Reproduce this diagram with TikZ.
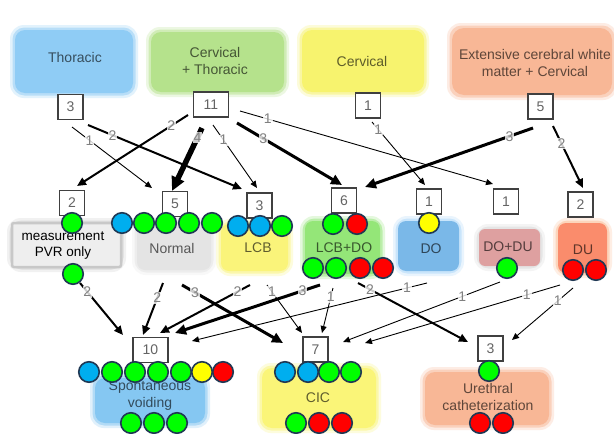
\documentclass[tikz,border=0pt]{standalone}
\usepackage{fontspec}
\setmainfont{Liberation Sans}
\usetikzlibrary{arrows.meta}
\definecolor{thor}{RGB}{143,204,245}
\definecolor{ct}{RGB}{181,226,140}
\definecolor{cerv}{RGB}{247,243,110}
\definecolor{ext}{RGB}{248,183,150}
\definecolor{pvrfill}{RGB}{238,238,238}
\definecolor{pvredge}{RGB}{200,200,200}
\definecolor{normgray}{RGB}{228,228,228}
\definecolor{lcb}{RGB}{250,244,122}
\definecolor{lcbdo}{RGB}{148,230,120}
\definecolor{dob}{RGB}{122,184,232}
\definecolor{doglow}{RGB}{170,215,250}
\definecolor{dodu}{RGB}{222,160,160}
\definecolor{duduglow}{RGB}{215,215,215}
\definecolor{du}{RGB}{250,140,108}
\definecolor{duglow}{RGB}{252,190,150}
\definecolor{sv}{RGB}{133,199,242}
\definecolor{cic}{RGB}{250,245,120}
\definecolor{ureth}{RGB}{248,183,150}
\definecolor{cblue}{RGB}{0,174,239}
\definecolor{cgreen}{RGB}{0,255,0}
\definecolor{cred}{RGB}{255,0,0}
\definecolor{cyellow}{RGB}{255,255,0}
\definecolor{navy}{RGB}{31,56,84}
\definecolor{boxgray}{RGB}{64,64,64}
\definecolor{numgray}{RGB}{100,100,100}
\definecolor{labgray}{RGB}{128,128,128}
\newcommand\softbox[7]{%
  \fill[#6, opacity=0.25, rounded corners=14pt] (#1-5,#2-5) rectangle (#3+5,#4+5);
  \fill[#6, opacity=0.5, rounded corners=12pt] (#1-2.5,#2-2.5) rectangle (#3+2.5,#4+2.5);
  \fill[#5, rounded corners=#7pt] (#1,#2) rectangle (#3,#4);
}
\newcommand\pat[4]{\node[circ, fill=#4] (#1) at (#2,#3) {};}
\newcommand\conn[6]{%
  \coordinate (#2s) at (#3);
  \coordinate (#2e) at (#4);
  \draw[#1] (#2s) -- node[lab, pos=#6] {#5} (#2e);
}
\begin{document}
\begin{tikzpicture}[x=1pt, y=-1pt,
  circ/.style={circle, draw=navy, line width=1.6pt, minimum size=20.5pt, inner sep=0pt},
  cnt/.style={draw=boxgray, line width=1.1pt, fill=white, minimum width=25pt, minimum height=25pt, inner sep=0pt, text=numgray, font=\fontsize{14}{14}\selectfont},
  wcnt/.style={cnt, minimum width=35pt},
  lab/.style={fill=white, fill opacity=0.8, text opacity=1, text=labgray, inner sep=0.8pt, font=\fontsize{14}{14}\selectfont},
  cat/.style={align=center, text=black, text opacity=0.62, font=\fontsize{14}{17}\selectfont},
  aone/.style={line width=0.9pt, -{Triangle[length=7pt,width=6pt]}},
  atwo/.style={line width=2pt, -{Triangle[length=9pt,width=8pt]}},
  athree/.style={line width=3pt, -{Triangle[length=11pt,width=10pt]}},
  afour/.style={line width=5.5pt, -{Triangle[length=14pt,width=13pt]}}
]
\useasboundingbox (0,0) rectangle (614,434);
\fill[white] (0,0) rectangle (614,434);

% top category boxes
\softbox{15}{30}{133}{93}{thor}{thor}{10}
\softbox{151}{32}{284}{92}{ct}{ct}{10}
\softbox{302}{30}{424}{92}{cerv}{cerv}{10}
\softbox{452}{28}{612}{95}{ext}{ext}{12}
\node[cat] (thoracic) at (75,57) {Thoracic};
\node[cat] (cervthor) at (215,60.5) {Cervical\\+ Thoracic};
\node[cat] (cervical) at (362,61) {Cervical};
\node[cat] (extensive) at (535,62.5) {Extensive cerebral white\\matter + Cervical};

% middle category boxes
\softbox{12}{223}{121}{267}{pvrfill}{pvredge}{2}
\draw[pvredge, line width=2.5pt, rounded corners=2pt] (12,223) rectangle (121,267);
\softbox{137}{222}{211}{270}{normgray}{normgray}{8}
\softbox{221}{224}{288}{271}{lcb}{lcb}{8}
\softbox{305}{221}{380}{274}{lcbdo}{lcbdo}{8}
\softbox{398}{221}{459}{271}{dob}{doglow}{8}
\softbox{479}{229}{540}{266}{dodu}{duduglow}{6}
\softbox{558}{223}{607}{273}{du}{duglow}{8}
\node[align=center, font=\fontsize{13.5}{15.5}\selectfont] (pvr) at (63,245.5) {measurement\\PVR only};
\node[cat] (normal) at (172,248) {Normal};
\node[cat] (lcbt) at (258,248) {LCB};
\node[cat] (lcbdot) at (344,248) {LCB+DO};
\node[cat] (dot) at (431,249) {DO};
\node[cat] (dodut) at (508,247) {DO+DU};
\node[cat] (dut) at (583,250) {DU};

% bottom category boxes
\softbox{95}{378}{205}{423}{sv}{sv}{10}
\softbox{262}{368}{376}{428}{cic}{cic}{10}
\softbox{425}{372}{549}{425}{ureth}{ureth}{10}
\node[cat] (svt) at (150,396) {Spontaneous\\voiding};
\node[cat] (cict) at (318,398) {CIC};
\node[cat] (uretht) at (488,396.5) {Urethral\\catheterization};

% top connectors
\conn{aone}{t1}{72,127}{152,188}{1}{0.22}
\conn{atwo}{t2}{88,125}{242,189}{2}{0.16}
\conn{atwo}{t3}{188,115}{77,186}{2}{0.15}
\conn{afour}{t4}{202,128}{172,191}{4}{0.15}
\conn{aone}{t5}{213,125}{257,188}{1}{0.24}
\conn{athree}{t6}{237,123}{342,185}{3}{0.25}
\conn{aone}{t7}{240,111}{493,184}{1}{0.11}
\conn{aone}{t8}{372,122}{425,185}{1}{0.12}
\conn{athree}{t9}{533,128}{365,187}{3}{0.14}
\conn{atwo}{t10}{553,126}{583,188}{2}{0.28}

% bottom connectors
\conn{atwo}{b1}{80,283}{123,335}{2}{0.17}
\conn{atwo}{b2}{163,283}{143,335}{2}{0.29}
\conn{athree}{b3}{182,285}{283,343}{3}{0.13}
\conn{atwo}{b4}{250,285}{160,333}{2}{0.14}
\conn{aone}{b5}{267,285}{302,333}{1}{0.14}
\conn{athree}{b6}{320,285}{175,333}{3}{0.12}
\conn{aone}{b7}{333,288}{322,333}{1}{0.2}
\conn{atwo}{b8}{358,283}{468,342}{2}{0.11}
\conn{aone}{b9}{427,283}{192,341}{1}{0.085}
\conn{aone}{b10}{500,282}{343,342}{1}{0.24}
\conn{aone}{b11}{560,285}{365,343}{1}{0.17}
\conn{aone}{b12}{573,288}{512,340}{1}{0.25}

% count boxes
\node[cnt] (c3) at (70.5,107) {3};
\node[wcnt] (c11) at (211,104.5) {11};
\node[cnt] (c1) at (368,105.5) {1};
\node[cnt] (c5) at (540.5,106.5) {5};
\node[cnt] (mpvr) at (72,203) {2};
\node[cnt] (mnor) at (175,204) {5};
\node[cnt] (mlcb) at (259.5,205.5) {3};
\node[cnt] (mld) at (344,200.5) {6};
\node[cnt] (mdo) at (429,201.5) {1};
\node[cnt] (mdd) at (506,201.5) {1};
\node[cnt] (mdu) at (580.5,204.5) {2};
\node[wcnt] (bsv) at (150.5,350) {10};
\node[cnt] (bcic) at (315.5,349.5) {7};
\node[cnt] (bur) at (490.5,348.5) {3};

% patient dots
\pat{p1}{72}{223}{cgreen}
\pat{p2}{73}{274}{cgreen}
\pat{n1}{122}{223}{cblue}
\pat{n2}{144}{223}{cgreen}
\pat{n3}{166}{223}{cgreen}
\pat{n4}{189}{223}{cgreen}
\pat{n5}{212}{223}{cgreen}
\pat{l1}{238}{226}{cblue}
\pat{l2}{260}{226}{cblue}
\pat{l3}{282}{226}{cgreen}
\pat{ld1}{333}{224}{cgreen}
\pat{ld2}{357}{224}{cred}
\pat{ld3}{313}{268}{cgreen}
\pat{ld4}{336}{268}{cgreen}
\pat{ld5}{360}{268}{cred}
\pat{ld6}{383}{268}{cred}
\pat{d1}{429}{223}{cyellow}
\pat{dd1}{507}{268}{cgreen}
\pat{du1}{573}{270}{cred}
\pat{du2}{596}{270}{cred}
\pat{s1}{89}{372}{cblue}
\pat{s2}{112}{372}{cgreen}
\pat{s3}{135}{372}{cgreen}
\pat{s4}{158}{372}{cgreen}
\pat{s5}{181}{372}{cgreen}
\pat{s6}{202}{372}{cyellow}
\pat{s7}{223}{372}{cred}
\pat{s8}{131}{423}{cgreen}
\pat{s9}{154}{423}{cgreen}
\pat{s10}{177}{423}{cgreen}
\pat{ci1}{285}{372}{cblue}
\pat{ci2}{308}{372}{cblue}
\pat{ci3}{329}{372}{cgreen}
\pat{ci4}{351}{372}{cgreen}
\pat{ci5}{296}{423}{cgreen}
\pat{ci6}{319}{423}{cred}
\pat{ci7}{342}{423}{cred}
\pat{u1}{489}{371}{cgreen}
\pat{u2}{480}{423}{cred}
\pat{u3}{503}{423}{cred}
\end{tikzpicture}
\end{document}
